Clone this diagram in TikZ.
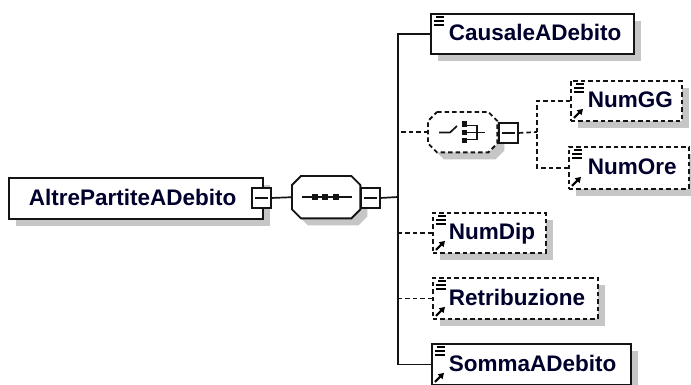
\documentclass[tikz,border=0pt]{standalone}
\usepackage{fontspec}
\setmainfont{Liberation Sans}
\usetikzlibrary{shadows,arrows.meta}
\definecolor{shadowc}{RGB}{198,198,198}
\definecolor{txtc}{RGB}{0,0,45}
\definecolor{linec}{RGB}{20,20,20}
\tikzset{
  base/.style={line width=1.9pt, draw=linec},
  conn/.style={line width=1.7pt, draw=linec},
  opt/.style={dash pattern=on 4.5pt off 3pt},
  elem/.style={base, fill=white, rectangle, anchor=north west, inner xsep=0pt, inner ysep=0pt,
    align=left, font=\fontsize{22.5}{26}\selectfont\bfseries, text=txtc,
    text height=17pt, text depth=3pt,
    general shadow={fill=shadowc, draw=none, shadow xshift=7pt, shadow yshift=-7pt}},
  sz/.style 2 args={minimum width=#1pt, text width=#1pt, minimum height=#2pt},
  minusbox/.style={base, fill=white, rectangle, anchor=north west, inner sep=0pt,
    minimum width=19pt, minimum height=20pt,
    path picture={\draw[line width=1.7pt, draw=linec]
      ([xshift=3pt]path picture bounding box.west) -- ([xshift=-3pt]path picture bounding box.east);}},
  octholder/.style={rectangle, anchor=north west, inner sep=0pt, draw=none},
  octo/.style={insert path={([xshift=9pt]#1.north west) -- ([xshift=-9pt]#1.north east)
    -- ([yshift=-9pt]#1.north east) -- ([yshift=9pt]#1.south east)
    -- ([xshift=-9pt]#1.south east) -- ([xshift=9pt]#1.south west)
    -- ([yshift=9pt]#1.south west) -- ([yshift=-9pt]#1.north west) -- cycle}},
  iconline/.style={line width=1.8pt, draw=black},
}
\newcommand\elicon[1]{%
  \draw[iconline] ([xshift=6pt,yshift=-4pt]#1.north west) -- ([xshift=14pt,yshift=-4pt]#1.north west);
  \draw[iconline] ([xshift=4pt,yshift=-8pt]#1.north west) -- ([xshift=14pt,yshift=-8pt]#1.north west);
  \draw[iconline] ([xshift=4pt,yshift=-12pt]#1.north west) -- ([xshift=14pt,yshift=-12pt]#1.north west);}
\newcommand\refarrow[1]{%
  \draw[line width=2.2pt, draw=black, -{Triangle[length=5.5pt,width=6.5pt]}] ([xshift=4pt,yshift=4pt]#1.south west) -- ([xshift=13pt,yshift=13pt]#1.south west);}
\begin{document}
\begin{tikzpicture}[x=1pt,y=-1pt]
\useasboundingbox (0,0) rectangle (691,385);

% root element
\node[elem, sz={254}{41}] (root) at (8,177) {\hspace*{20pt}AltrePartiteADebito};
\node[minusbox] (rootm) at (251,187) {};

% sequence compositor
\node[octholder, minimum width=68pt, minimum height=42pt] (seq) at (292,176) {};
\fill[shadowc, transform canvas={xshift=7pt,yshift=-7pt}, octo=seq];
\draw[base, fill=white, octo=seq];
\draw[conn] (302,197) -- (352,197);
\fill[linec] (312,194) rectangle (318,200);
\fill[linec] (322,194) rectangle (328,200);
\fill[linec] (333,194) rectangle (339,200);
\node[minusbox] (seqm) at (360,187) {};

\coordinate (tr) at (398,197);

% children
\node[elem, sz={203}{40}] (caus) at (430,13) {\hspace*{18pt}CausaleADebito};
\elicon{caus}

% choice compositor
\node[octholder, minimum width=69pt, minimum height=40pt] (choice) at (428,112) {};
\fill[shadowc, transform canvas={xshift=7pt,yshift=-7pt}, octo=choice];
\draw[base, opt, fill=white, octo=choice];
\draw[conn] (439,132.5) -- (450,132.5) -- (457,126);
\fill[linec] (461.5,121.5) rectangle (466.5,127);
\fill[linec] (461.5,130) rectangle (466.5,135.5);
\fill[linec] (461.5,138) rectangle (466.5,143.5);
\draw[conn] (466,125.5) -- (477,125.5) -- (477,139.5) -- (466,139.5);
\draw[conn] (466,132.5) -- (485,132.5);
\node[minusbox] (choicem) at (498,122) {};
\coordinate (cj) at (537,132);

\node[elem, opt, sz={111}{40}] (numgg) at (570,80) {\hspace*{17pt}NumGG};
\elicon{numgg}\refarrow{numgg}
\node[elem, opt, sz={120}{42}] (numore) at (568,146) {\hspace*{19pt}NumOre};
\elicon{numore}\refarrow{numore}

\node[elem, opt, sz={113}{40}] (numdip) at (432,212) {\hspace*{16pt}NumDip};
\elicon{numdip}\refarrow{numdip}
\node[elem, opt, sz={165}{41}] (retr) at (432,277) {\hspace*{16pt}Retribuzione};
\elicon{retr}\refarrow{retr}
\node[elem, sz={199}{41}] (somma) at (431,343) {\hspace*{17pt}SommaADebito};
\elicon{somma}\refarrow{somma}

% connectors
\draw[conn] (rootm.east) -- (seq.west);
\draw[conn] (seqm.east) -- (tr);
\draw[conn] (caus.west) -| (tr);
\draw[conn] (somma.west) -| (tr);
\draw[conn, opt] (choice.west) -| (tr);
\draw[conn, opt] (numdip.west) -| (tr);
\draw[conn, opt] (retr.west) -| (tr);
\draw[conn, opt] (choicem.east) -- (cj);
\draw[conn, opt] (numgg.west) -| (cj);
\draw[conn, opt] (numore.west) -| (cj);
\end{tikzpicture}
\end{document}
